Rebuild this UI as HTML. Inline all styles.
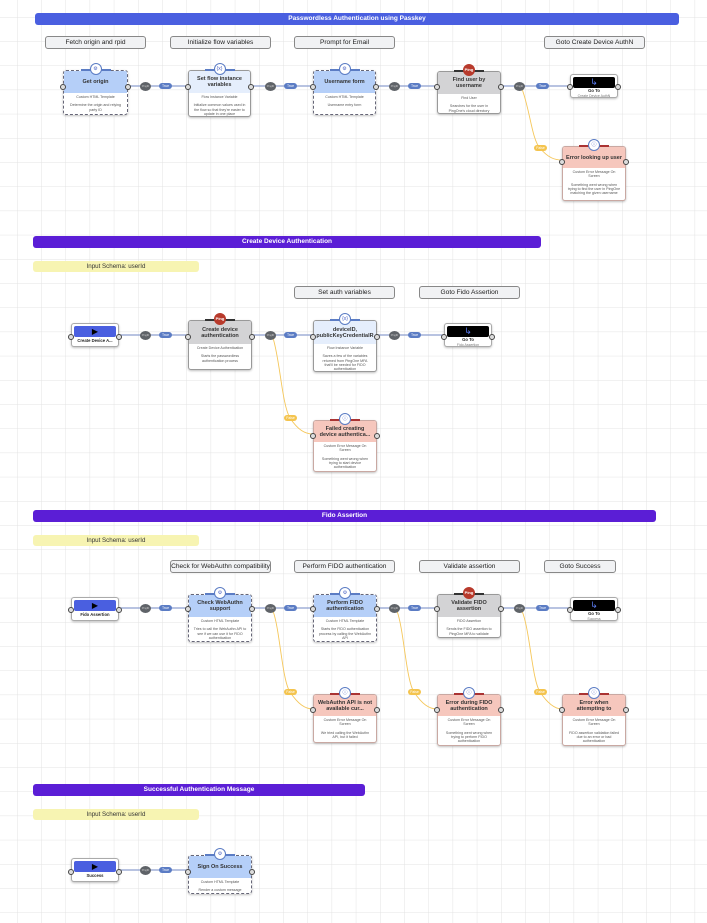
<!DOCTYPE html>
<html><head><meta charset="utf-8"><style>
body{margin:0;width:707px;height:923px;position:relative;overflow:hidden;background:#fff;font-family:"Liberation Sans",sans-serif}
svg.bg{position:absolute;left:0;top:0}
.ban{position:absolute;height:12px;border-radius:3px;color:#fff;font-weight:bold;font-size:6.5px;line-height:12px;text-align:center}
.lab{position:absolute;height:11px;width:99px;border:1px solid #888;border-radius:3px;background:#f1f2f4;font-size:6.6px;line-height:11px;text-align:center;color:#222}
.sch{position:absolute;left:33px;width:166px;height:11px;background:#f7f4b2;border-radius:3px;font-size:6.2px;line-height:11px;text-align:center;color:#333}
.n{position:absolute;border:1px solid #999;border-radius:3px;background:#fff;box-shadow:0 1px 2px rgba(0,0,0,.25);text-align:center;box-sizing:border-box}
.n.dash{border:1px dashed #667}
.h{display:flex;align-items:center;justify-content:center;font-weight:bold;font-size:5.5px;line-height:6px;color:#333;padding:0 3px;border-radius:2px 2px 0 0}
.b{font-size:3.6px;line-height:4.2px;color:#555;padding:2px 4px 0;overflow:hidden}
.blue .h{background:#b5cff8}
.lb .h{background:#e5eefc}
.gr .h{background:#d3d3d5}
.er .h{background:#f6c7bd}
.er{border-color:#c9a8a2}
.ic{position:absolute;left:50%;top:-8px;width:10px;height:10px;margin-left:-6px;border-radius:50%;background:#fff;border:1px solid #5b7cc4;font-size:5px;line-height:10px;color:#4a62c4;font-style:normal;text-align:center}
.ic.pg{background:#b83a2c;border-color:#b83a2c;color:#fff;font-size:4px;font-weight:bold}
.bar{position:absolute;left:50%;top:-2px;width:30px;margin-left:-15px;height:2px;background:#5b7cc4}
.p{position:absolute;width:4px;height:4px;border:1px solid #444;border-radius:50%;background:#ddd}
.p.l{left:-4px}.p.r{right:-4px}
.st{position:absolute;width:48px;height:24px;border:1px solid #aaa;border-radius:3px;background:#fff;box-shadow:0 1px 2px rgba(0,0,0,.25);box-sizing:border-box}
.st .t{margin:2px 2px 0;height:11px;background:#4a5fe0;border-radius:2px;color:#000;font-size:8px;line-height:11px;text-align:center}
.st .c{font-size:4.2px;font-weight:bold;text-align:center;line-height:8px;color:#222}
.go .t{background:#000;color:#5b7cf0;font-size:9px}
.go .c{line-height:4.5px;padding-top:1px}
.go .c span{font-weight:normal;color:#777;font-size:3.5px;display:block}
.d{position:absolute;width:11px;height:9px;border-radius:50%;background:#5f6368;color:#ccc;font-size:2.5px;line-height:9px;text-align:center}
.tp{position:absolute;width:13px;height:6px;border-radius:3px;background:#5b7cc4;color:#fff;font-size:3.5px;line-height:6px;text-align:center}
.fp{position:absolute;width:13px;height:6px;border-radius:3px;background:#f4c44e;color:#fff;font-size:3.5px;line-height:6px;text-align:center}
</style></head><body>
<svg class="bg" width="707" height="923">
<defs><pattern id="g" x="17" y="17" width="24.2" height="24.2" patternUnits="userSpaceOnUse"><path d="M0 0V24.2M0 0H24.2" stroke="#e3e3e3" stroke-width="1" fill="none"/></pattern></defs>
<rect width="707" height="923" fill="url(#g)"/>
<g stroke="#8d9fcf" stroke-width="1.2" fill="none">
<path d="M128 86H188M251 86H313M376 86H437M501 86H570"/>
<path d="M119 335H188M252 335H313M377 335H444"/>
<path d="M119 608H188M252 608H313M377 608H437M501 608H570"/>
<path d="M119 870H188"/>
</g>
<g stroke="#f5c75a" stroke-width="0.9" fill="none">
<path d="M522 89C530 110 532 140 540 148C548 158 555 160 562 160"/>
<path d="M273 338C280 360 282 405 290 418C298 430 305 434 313 434"/>
<path d="M273 611C280 630 282 680 290 692C298 704 305 709 313 709"/>
<path d="M397 611C404 630 406 680 414 692C422 704 429 709 437 709"/>
<path d="M522 611C530 630 532 680 540 692C548 704 555 709 562 709"/>
</g>
</svg>

<div class="ban" style="left:35px;top:13px;width:644px;background:#4a5fe0">Passwordless Authentication using Passkey</div>
<div class="lab" style="left:45px;top:36px">Fetch origin and rpid</div>
<div class="lab" style="left:170px;top:36px">Initialize flow variables</div>
<div class="lab" style="left:294px;top:36px">Prompt for Email</div>
<div class="lab" style="left:544px;top:36px">Goto Create Device AuthN</div>

<div class="n blue dash" style="left:63px;top:70px;width:65px;height:45px"><div class="h" style="height:22px">Get origin</div><div class="b">Custom HTML Template<br><br>Determine the origin and relying party ID</div><span class="bar"></span><i class="ic">⚙</i><s class="p l" style="top:13px"></s><s class="p r" style="top:13px"></s></div>
<div class="n lb" style="left:188px;top:70px;width:63px;height:47px"><div class="h" style="height:22px">Set flow instance variables</div><div class="b">Flow Instance Variable<br><br>Initialize common values used in the flow so that they're easier to update in one place</div><span class="bar"></span><i class="ic">{x}</i><s class="p l" style="top:13px"></s><s class="p r" style="top:13px"></s></div>
<div class="n blue dash" style="left:313px;top:70px;width:63px;height:45px"><div class="h" style="height:22px">Username form</div><div class="b">Custom HTML Template<br><br>Username entry form</div><span class="bar"></span><i class="ic">⚙</i><s class="p l" style="top:13px"></s><s class="p r" style="top:13px"></s></div>
<div class="n gr" style="left:437px;top:71px;width:64px;height:43px"><div class="h" style="height:22px">Find user by username</div><div class="b">Find User<br><br>Searches for the user in PingOne's cloud directory</div><span class="bar" style="background:#333"></span><i class="ic pg">Ping</i><s class="p l" style="top:12px"></s><s class="p r" style="top:12px"></s></div>
<div class="st go" style="left:570px;top:74px"><div class="t">↳</div><div class="c">Go To<span>Create Device AuthN</span></div><s class="p l" style="top:9px"></s><s class="p r" style="top:9px"></s></div>
<div class="d" style="left:140px;top:82px">PingID</div><div class="tp" style="left:159px;top:83px">True</div>
<div class="d" style="left:265px;top:82px">PingID</div><div class="tp" style="left:284px;top:83px">True</div>
<div class="d" style="left:389px;top:82px">PingID</div><div class="tp" style="left:408px;top:83px">True</div>
<div class="d" style="left:514px;top:82px">PingID</div><div class="tp" style="left:536px;top:83px">True</div>
<div class="fp" style="left:534px;top:145px">False</div>
<div class="n er" style="left:562px;top:146px;width:64px;height:55px"><div class="h" style="height:21px">Error looking up user</div><div class="b">Custom Error Message On Screen<br><br>Something went wrong when trying to find the user in PingOne matching the given username</div><span class="bar" style="background:#a33"></span><i class="ic">ⓘ</i><s class="p l" style="top:12px"></s><s class="p r" style="top:12px"></s></div>

<div class="ban" style="left:33px;top:236px;width:508px;background:#5b1ed6">Create Device Authentication</div>
<div class="sch" style="top:261px">Input Schema: userId</div>
<div class="lab" style="left:294px;top:286px">Set auth variables</div>
<div class="lab" style="left:419px;top:286px">Goto Fido Assertion</div>
<div class="st" style="left:71px;top:323px"><div class="t">▶</div><div class="c">Create Device A...</div><s class="p l" style="top:10px"></s><s class="p r" style="top:10px"></s></div>
<div class="d" style="left:140px;top:331px">PingID</div><div class="tp" style="left:159px;top:332px">True</div>
<div class="n gr" style="left:188px;top:320px;width:64px;height:50px"><div class="h" style="height:23px">Create device authentication</div><div class="b">Create Device Authentication<br><br>Starts the passwordless authentication process</div><span class="bar" style="background:#333"></span><i class="ic pg">Ping</i><s class="p l" style="top:13px"></s><s class="p r" style="top:13px"></s></div>
<div class="d" style="left:265px;top:331px">PingID</div><div class="tp" style="left:284px;top:332px">True</div>
<div class="n lb" style="left:313px;top:320px;width:64px;height:52px"><div class="h" style="height:23px">deviceID, publicKeyCredentialR</div><div class="b">Flow Instance Variable<br><br>Saves a few of the variables returned from PingOne MFA that'll be needed for FIDO authentication</div><span class="bar"></span><i class="ic">{x}</i><s class="p l" style="top:13px"></s><s class="p r" style="top:13px"></s></div>
<div class="d" style="left:389px;top:331px">PingID</div><div class="tp" style="left:408px;top:332px">True</div>
<div class="st go" style="left:444px;top:323px"><div class="t">↳</div><div class="c">Go To<span>Fido Assertion</span></div><s class="p l" style="top:10px"></s><s class="p r" style="top:10px"></s></div>
<div class="fp" style="left:284px;top:415px">False</div>
<div class="n er" style="left:313px;top:420px;width:64px;height:52px"><div class="h" style="height:21px">Failed creating device authentica...</div><div class="b">Custom Error Message On Screen<br><br>Something went wrong when trying to start device authentication</div><span class="bar" style="background:#a33"></span><i class="ic">ⓘ</i><s class="p l" style="top:12px"></s><s class="p r" style="top:12px"></s></div>

<div class="ban" style="left:33px;top:510px;width:623px;background:#5b1ed6">Fido Assertion</div>
<div class="sch" style="top:535px">Input Schema: userId</div>
<div class="lab" style="left:170px;top:560px">Check for WebAuthn compatibility</div>
<div class="lab" style="left:294px;top:560px">Perform FIDO authentication</div>
<div class="lab" style="left:419px;top:560px">Validate assertion</div>
<div class="lab" style="left:544px;top:560px;width:70px">Goto Success</div>
<div class="st" style="left:71px;top:597px"><div class="t">▶</div><div class="c">Fido Assertion</div><s class="p l" style="top:9px"></s><s class="p r" style="top:9px"></s></div>
<div class="d" style="left:140px;top:604px">PingID</div><div class="tp" style="left:159px;top:605px">True</div>
<div class="n blue dash" style="left:188px;top:594px;width:64px;height:48px"><div class="h" style="height:22px">Check WebAuthn support</div><div class="b">Custom HTML Template<br><br>Tries to call the WebAuthn API to see if we can use it for FIDO authentication</div><span class="bar"></span><i class="ic">⚙</i><s class="p l" style="top:11px"></s><s class="p r" style="top:11px"></s></div>
<div class="d" style="left:265px;top:604px">PingID</div><div class="tp" style="left:284px;top:605px">True</div>
<div class="n blue dash" style="left:313px;top:594px;width:64px;height:48px"><div class="h" style="height:22px">Perform FIDO authentication</div><div class="b">Custom HTML Template<br><br>Starts the FIDO authentication process by calling the WebAuthn API</div><span class="bar"></span><i class="ic">⚙</i><s class="p l" style="top:11px"></s><s class="p r" style="top:11px"></s></div>
<div class="d" style="left:389px;top:604px">PingID</div><div class="tp" style="left:408px;top:605px">True</div>
<div class="n gr" style="left:437px;top:594px;width:64px;height:44px"><div class="h" style="height:22px">Validate FIDO assertion</div><div class="b">FIDO Assertion<br><br>Sends the FIDO assertion to PingOne MFA to validate</div><span class="bar" style="background:#333"></span><i class="ic pg">Ping</i><s class="p l" style="top:11px"></s><s class="p r" style="top:11px"></s></div>
<div class="d" style="left:514px;top:604px">PingID</div><div class="tp" style="left:536px;top:605px">True</div>
<div class="st go" style="left:570px;top:597px"><div class="t">↳</div><div class="c">Go To<span>Success</span></div><s class="p l" style="top:9px"></s><s class="p r" style="top:9px"></s></div>
<div class="fp" style="left:284px;top:689px">False</div>
<div class="fp" style="left:408px;top:689px">False</div>
<div class="fp" style="left:534px;top:689px">False</div>
<div class="n er" style="left:313px;top:694px;width:64px;height:49px"><div class="h" style="height:21px">WebAuthn API is not available cur...</div><div class="b">Custom Error Message On Screen<br><br>We tried calling the WebAuthn API, but it failed</div><span class="bar" style="background:#a33"></span><i class="ic">ⓘ</i><s class="p l" style="top:12px"></s><s class="p r" style="top:12px"></s></div>
<div class="n er" style="left:437px;top:694px;width:64px;height:52px"><div class="h" style="height:21px">Error during FIDO authentication</div><div class="b">Custom Error Message On Screen<br><br>Something went wrong when trying to perform FIDO authentication</div><span class="bar" style="background:#a33"></span><i class="ic">ⓘ</i><s class="p l" style="top:12px"></s><s class="p r" style="top:12px"></s></div>
<div class="n er" style="left:562px;top:694px;width:64px;height:52px"><div class="h" style="height:21px">Error when attempting to</div><div class="b">Custom Error Message On Screen<br><br>FIDO assertion validation failed due to an error or bad authentication</div><span class="bar" style="background:#a33"></span><i class="ic">ⓘ</i><s class="p l" style="top:12px"></s><s class="p r" style="top:12px"></s></div>

<div class="ban" style="left:33px;top:784px;width:332px;background:#5b1ed6">Successful Authentication Message</div>
<div class="sch" style="top:809px">Input Schema: userId</div>
<div class="st" style="left:71px;top:858px"><div class="t">▶</div><div class="c">Success</div><s class="p l" style="top:10px"></s><s class="p r" style="top:10px"></s></div>
<div class="d" style="left:140px;top:866px">PingID</div><div class="tp" style="left:159px;top:867px">True</div>
<div class="n blue dash" style="left:188px;top:855px;width:64px;height:39px"><div class="h" style="height:22px">Sign On Success</div><div class="b">Custom HTML Template<br><br>Render a custom message</div><span class="bar"></span><i class="ic">⚙</i><s class="p l" style="top:13px"></s><s class="p r" style="top:13px"></s></div>
</body></html>
